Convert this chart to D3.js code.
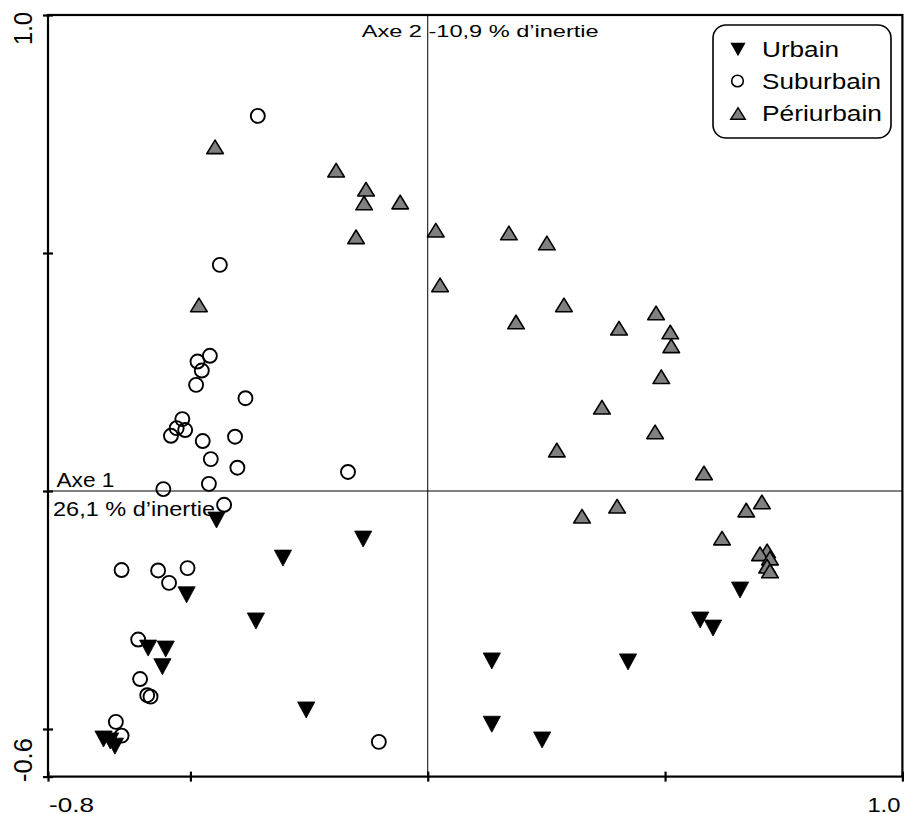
<html>
  <head>
    <style>
      body {
        margin: 0;
        background: white;
        font-family: "Liberation Sans", Arial, Helvetica, sans-serif;
      }
      svg {
        display: block;
      }
    </style>
    <script src="https://cdn.jsdelivr.net/npm/d3@7/dist/d3.min.js"></script>
  </head>

  <body>
    <svg id="Chart"></svg>
  </body>
  <script>
    // [axe 1, axe 2] coordinates
    let urbain = [
      [-0.445, -0.061], [-0.136, -0.101], [-0.305, -0.141], [-0.508, -0.218],
      [0.658, -0.208], [-0.362, -0.273], [0.574, -0.271], [0.601, -0.288],
      [-0.589, -0.33], [-0.552, -0.332], [-0.559, -0.369], [0.135, -0.357],
      [0.422, -0.359], [-0.256, -0.46], [0.135, -0.49], [0.241, -0.523],
      [-0.683, -0.521], [-0.669, -0.525], [-0.659, -0.536],
    ];
    let suburbain = [
      [-0.358, 0.788], [-0.438, 0.475], [-0.459, 0.284], [-0.485, 0.272],
      [-0.476, 0.253], [-0.488, 0.223], [-0.384, 0.195], [-0.517, 0.151],
      [-0.529, 0.132], [-0.511, 0.128], [-0.541, 0.116], [-0.474, 0.105],
      [-0.406, 0.114], [-0.457, 0.067], [-0.401, 0.049], [-0.168, 0.04],
      [-0.461, 0.015], [-0.557, 0.004], [-0.429, -0.029], [-0.645, -0.166],
      [-0.568, -0.167], [-0.506, -0.162], [-0.545, -0.193], [-0.61, -0.312],
      [-0.606, -0.395], [-0.591, -0.429], [-0.584, -0.432], [-0.657, -0.485],
      [-0.645, -0.514], [-0.103, -0.527],
    ];
    let periurbain = [
      [-0.448, 0.723], [-0.193, 0.674], [-0.13, 0.634], [-0.134, 0.605],
      [-0.058, 0.607], [-0.151, 0.534], [0.017, 0.548], [0.171, 0.542],
      [0.251, 0.521], [0.026, 0.433], [-0.482, 0.391], [0.287, 0.391],
      [0.186, 0.355], [0.403, 0.342], [0.481, 0.374], [0.511, 0.334],
      [0.513, 0.305], [0.492, 0.24], [0.367, 0.176], [0.479, 0.124],
      [0.272, 0.086], [0.582, 0.038], [0.399, -0.032], [0.325, -0.053],
      [0.704, -0.023], [0.671, -0.04], [0.62, -0.099], [0.715, -0.126],
      [0.7, -0.132], [0.721, -0.141], [0.715, -0.158], [0.721, -0.168],
    ];
    let legendLabels = ["Urbain", "Suburbain", "Périurbain"];
    let xTicks = [-0.8, -0.5, 0, 0.5, 1.0];
    let yTicks = [-0.6, -0.5, 0, 0.5, 1.0];
    let xTickLabels = ["-0.8", "1.0"];
    let yTickLabels = ["1.0", "-0.6"];
    let axisTitles = ["Axe 2 -10,9 % d’inertie", "Axe 1", "26,1 % d’inertie"];

    // triangles are centred on their bounding box, like the original markers
    let upTriangle = "M0,-6.8L8.3,6.8L-8.3,6.8Z";
    let downTriangle = "M-8.6,-8L8.6,-8L0,8Z";

    function getConfig() {
      let width = 904;
      let height = 814;
      let container = d3.select("#Chart");
      container.attr("width", width).attr("height", height);
      return { width, height, container };
    }

    function getScales() {
      let xScale = d3.scaleLinear().domain([-0.8, 1.0]).range([48, 902.4]);
      let yScale = d3.scaleLinear().domain([-0.6, 1.0]).range([776.6, 15]);
      return { xScale, yScale };
    }

    // text stretched to the width it has in the picture
    function addText(g, str, x, y, size, length, anchor) {
      return g
        .append("text")
        .attr("x", x)
        .attr("y", y)
        .attr("font-size", size)
        .attr("text-anchor", anchor || "start")
        .attr("textLength", length)
        .attr("lengthAdjust", "spacingAndGlyphs")
        .attr("fill", "black")
        .text(str);
    }

    function drawFrame(container, scales) {
      let { xScale, yScale } = scales;
      let [x0, x1] = xScale.range();
      let [y0, y1] = yScale.range();

      // thin lines through the origin
      container
        .append("line")
        .attr("x1", xScale(0))
        .attr("x2", xScale(0))
        .attr("y1", y1)
        .attr("y2", y0)
        .attr("stroke", "black")
        .attr("stroke-width", 1);
      container
        .append("line")
        .attr("x1", x0)
        .attr("x2", x1)
        .attr("y1", yScale(0))
        .attr("y2", yScale(0))
        .attr("stroke", "black")
        .attr("stroke-width", 1);

      container
        .append("rect")
        .attr("x", x0)
        .attr("y", y1)
        .attr("width", x1 - x0)
        .attr("height", y0 - y1)
        .attr("fill", "none")
        .attr("stroke", "black")
        .attr("stroke-width", 2.2);

      let axisX = d3.axisBottom(xScale).tickValues(xTicks).tickSize(10).tickFormat("");
      container
        .append("g")
        .attr("transform", `translate(0,${y0 - 5})`)
        .call(axisX)
        .call((g) => g.select(".domain").remove())
        .call((g) => g.selectAll("line").attr("stroke-width", 2.2));

      let axisY = d3.axisLeft(yScale).tickValues(yTicks).tickSize(10).tickFormat("");
      container
        .append("g")
        .attr("transform", `translate(${x0 + 5},0)`)
        .call(axisY)
        .call((g) => g.select(".domain").remove())
        .call((g) => g.selectAll("line").attr("stroke-width", 2.2));

      // only the end values are labelled
      addText(container, xTickLabels[0], x0 + 1, 811.5, 21, 45);
      addText(container, xTickLabels[1], x1 - 2, 811.5, 21, 33, "end");

      container
        .append("g")
        .attr("transform", `translate(31.5,${y1 - 3}) rotate(-90)`)
        .call((g) => addText(g, yTickLabels[0], 0, 0, 26, 33, "end"));
      container
        .append("g")
        .attr("transform", `translate(31.5,${y0 + 5.5}) rotate(-90)`)
        .call((g) => addText(g, yTickLabels[1], 0, 0, 26, 44));
    }

    function drawTitles(container) {
      addText(container, axisTitles[0], 361.7, 37, 16, 237);
      addText(container, axisTitles[1], 56.5, 487, 20, 58);
      addText(container, axisTitles[2], 53, 516, 21, 162);
    }

    function drawPoints(container, scales) {
      let { xScale, yScale } = scales;
      let body = container.append("g");

      body
        .selectAll(".peri")
        .data(periurbain)
        .enter()
        .append("path")
        .attr("class", "peri")
        .attr("d", upTriangle)
        .attr("transform", (d) => `translate(${xScale(d[0])},${yScale(d[1])})`)
        .attr("fill", "#808080")
        .attr("stroke", "black")
        .attr("stroke-width", 1.6)
        .attr("stroke-linejoin", "round");

      body
        .selectAll(".sub")
        .data(suburbain)
        .enter()
        .append("circle")
        .attr("class", "sub")
        .attr("cx", (d) => xScale(d[0]))
        .attr("cy", (d) => yScale(d[1]))
        .attr("r", 7)
        .attr("fill", "none")
        .attr("stroke", "black")
        .attr("stroke-width", 1.9);

      body
        .selectAll(".urb")
        .data(urbain)
        .enter()
        .append("path")
        .attr("class", "urb")
        .attr("d", downTriangle)
        .attr("transform", (d) => `translate(${xScale(d[0])},${yScale(d[1])})`)
        .attr("fill", "black")
        .attr("stroke", "black")
        .attr("stroke-width", 0.8);
    }

    function drawLegend(container) {
      let legend = container.append("g");
      legend
        .append("rect")
        .attr("x", 713)
        .attr("y", 25)
        .attr("width", 178)
        .attr("height", 113)
        .attr("rx", 13)
        .attr("fill", "white")
        .attr("stroke", "black")
        .attr("stroke-width", 1.6);

      let rowY = [49.5, 81, 113.5];
      let lengths = [77, 119, 120];

      legend
        .append("path")
        .attr("d", "M-7.6,-6.8L7.6,-6.8L0,6.8Z")
        .attr("transform", `translate(738,${rowY[0]})`)
        .attr("fill", "black");
      legend
        .append("circle")
        .attr("cx", 737.5)
        .attr("cy", rowY[1])
        .attr("r", 5.8)
        .attr("fill", "none")
        .attr("stroke", "black")
        .attr("stroke-width", 1.6);
      legend
        .append("path")
        .attr("d", "M0,-5.8L7.3,5.8L-7.3,5.8Z")
        .attr("transform", `translate(738,${rowY[2]})`)
        .attr("fill", "#808080")
        .attr("stroke", "black")
        .attr("stroke-width", 1.4);

      legendLabels.forEach((label, i) => {
        addText(legend, label, 762, rowY[i] + 7.5, 22, lengths[i]);
      });
    }

    function drawChart() {
      let config = getConfig();
      let scales = getScales();
      drawFrame(config.container, scales);
      drawTitles(config.container);
      drawPoints(config.container, scales);
      drawLegend(config.container);
    }
    drawChart();
  </script>
</html>
